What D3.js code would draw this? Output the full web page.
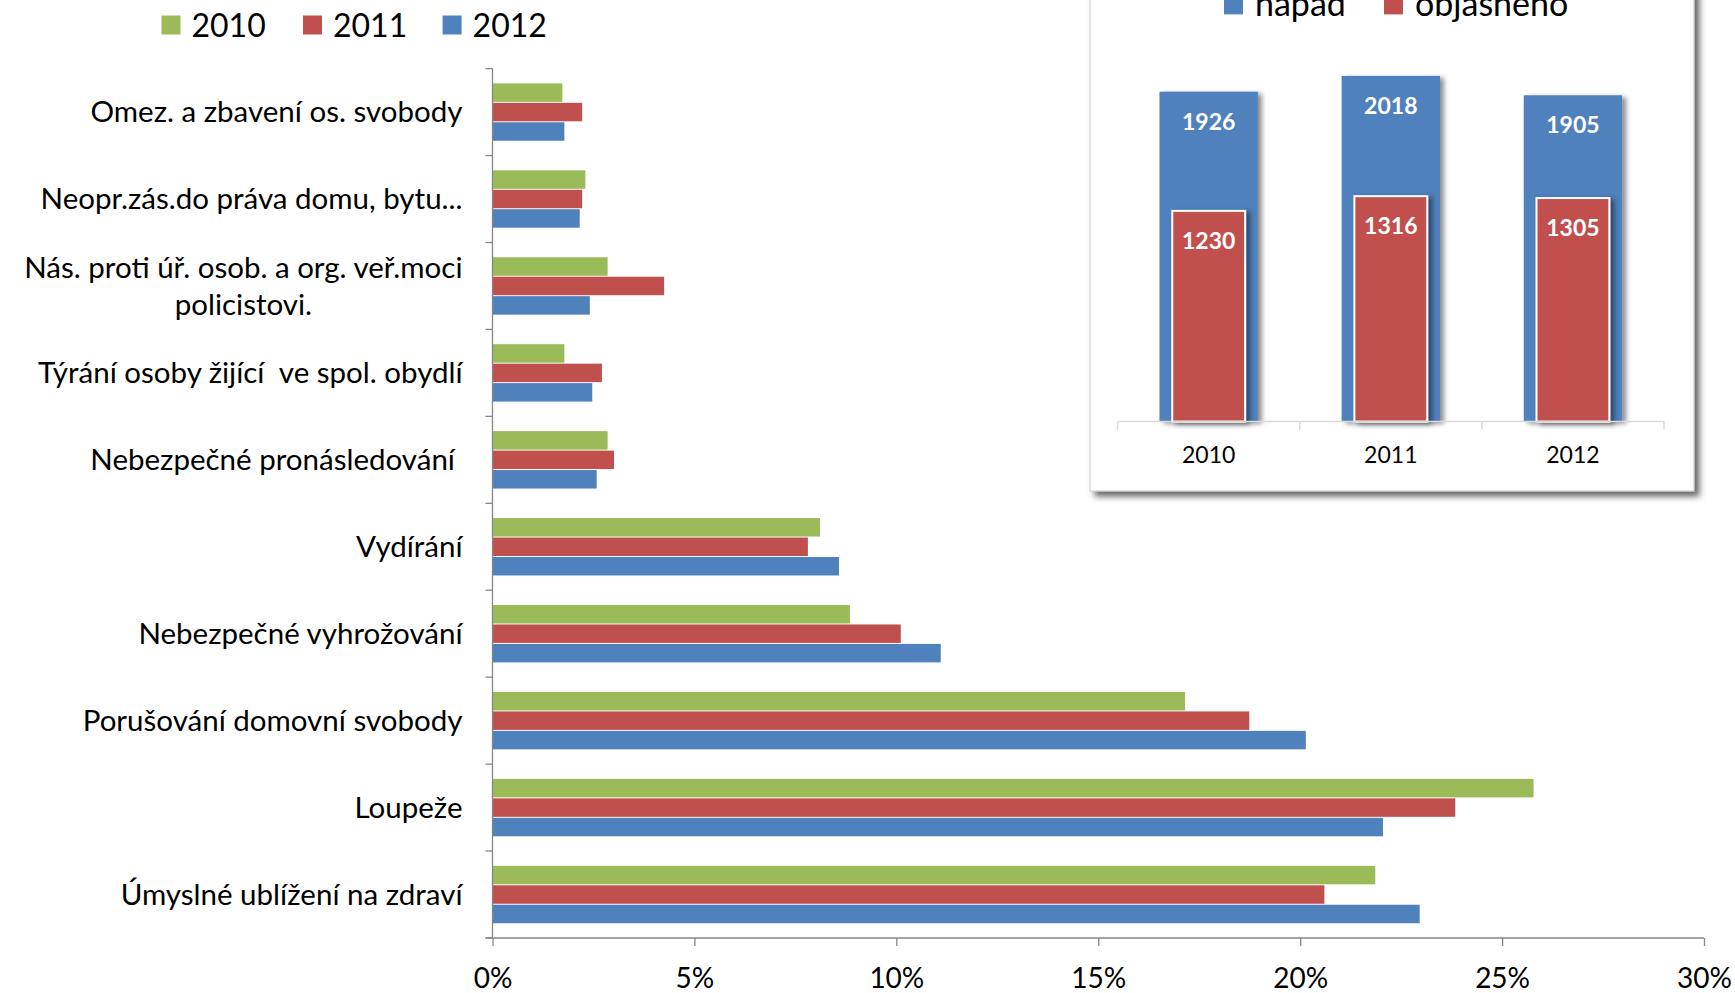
<!DOCTYPE html>
<html>
<head>
<meta charset="utf-8">
<script src="https://cdn.jsdelivr.net/npm/d3@7"></script>
<style>
  body { margin: 0; background: #fff; overflow: hidden; }
  svg text { font-family: Lato, "Open Sans", sans-serif; white-space: pre; }
</style>
</head>
<body>
<div id="chart"></div>
<script>
// main chart data (share in %)
var categories = [
  "Omez. a zbavení os. svobody",
  "Neopr.zás.do práva domu, bytu...",
  "Nás. proti úř. osob. a org. veř.moci\npolicistovi.",
  "Týrání osoby žijící  ve spol. obydlí",
  "Nebezpečné pronásledování ",
  "Vydírání",
  "Nebezpečné vyhrožování",
  "Porušování domovní svobody",
  "Loupeže",
  "Úmyslné ublížení na zdraví"
];
var years = ["2010", "2011", "2012"];
var values2010 = [1.73, 2.30, 2.85, 1.78, 2.85, 8.11, 8.85, 17.15, 25.78, 21.86];
var values2011 = [2.22, 2.22, 4.25, 2.71, 3.01, 7.81, 10.11, 18.74, 23.84, 20.60];
var values2012 = [1.78, 2.16, 2.41, 2.47, 2.58, 8.58, 11.10, 20.14, 22.05, 22.96];
var xTicks = [0, 5, 10, 15, 20, 25, 30];

// inset chart data
var insetYears = ["2010", "2011", "2012"];
var napad = [1926, 2018, 1905];
var objasneno = [1230, 1316, 1305];
var insetSeries = ["nápad", "objasněno"];

var colors = { "2010": "#9BBB59", "2011": "#C0504D", "2012": "#4F81BD" };
var axisColor = "#868686";

var width = 1735, height = 993;

var svg = d3.select("#chart").append("svg")
    .attr("width", width)
    .attr("height", height);

var defs = svg.append("defs");
var sh = defs.append("filter").attr("id", "boxShadow")
    .attr("x", "-5%").attr("y", "-5%").attr("width", "115%").attr("height", "115%");
sh.append("feDropShadow").attr("dx", 5).attr("dy", 5).attr("stdDeviation", 3)
    .attr("flood-color", "#000").attr("flood-opacity", 0.6);
var bs = defs.append("filter").attr("id", "barShadow")
    .attr("x", "-20%").attr("y", "-20%").attr("width", "150%").attr("height", "150%");
bs.append("feDropShadow").attr("dx", 4).attr("dy", 2).attr("stdDeviation", 2.5)
    .attr("flood-color", "#000").attr("flood-opacity", 0.45);

//build rows
var rows = categories.map(function(c, i) {
  return { cat: c, vals: [values2010[i], values2011[i], values2012[i]] };
});

//scales
var x = d3.scaleLinear().domain([0, 30]).range([492.5, 1704]);
var y = d3.scaleBand().domain(categories).range([68.6, 938]);
var groupH = y.bandwidth() * 0.66;
var yIn = d3.scaleBand().domain(years).range([0, groupH]).paddingInner(0.05);

//bars
var groups = svg.selectAll(".cat")
  .data(rows)
  .enter().append("g")
    .attr("class", "cat")
    .attr("transform", function(d) {
      return "translate(0," + (y(d.cat) + (y.bandwidth() - groupH) / 2) + ")";
    });

groups.selectAll("rect")
  .data(function(d) { return d.vals.map(function(v, i) { return { year: years[i], v: v }; }); })
  .enter().append("rect")
    .attr("x", x(0))
    .attr("y", function(d) { return yIn(d.year); })
    .attr("width", function(d) { return x(d.v) - x(0); })
    .attr("height", yIn.bandwidth())
    .attr("fill", function(d) { return colors[d.year]; });

//x axis
var xAxis = d3.axisBottom(x)
    .tickValues(xTicks)
    .tickFormat(function(d) { return d + "%"; })
    .tickSize(8)
    .tickSizeOuter(0);

var gx = svg.append("g")
    .attr("transform", "translate(0,938)")
    .call(xAxis);
gx.select(".domain").attr("stroke", axisColor).attr("stroke-width", 1.3)
    .attr("d", "M" + (x(0) - 7) + ",0H" + x(30));
gx.selectAll(".tick line").attr("stroke", axisColor).attr("stroke-width", 1.3);
gx.selectAll(".tick text")
    .attr("y", 40)
    .attr("dy", "0.35em")
    .attr("fill", "#000")
    .style("font-size", "28px");

//y axis (ticks on category borders)
var gy = svg.append("g");
gy.append("line")
    .attr("x1", x(0)).attr("x2", x(0))
    .attr("y1", y.range()[0]).attr("y2", y.range()[1])
    .attr("stroke", axisColor).attr("stroke-width", 1.3);
var borders = categories.map(function(c) { return y(c); }).concat([y.range()[1]]);
gy.selectAll(".ytick")
  .data(borders)
  .enter().append("line")
    .attr("x1", x(0) - 7).attr("x2", x(0))
    .attr("y1", function(d) { return d; })
    .attr("y2", function(d) { return d; })
    .attr("stroke", axisColor).attr("stroke-width", 1.3);

var labelRight = 462.5;
var labels = gy.selectAll(".ylab")
  .data(categories)
  .enter().append("text")
    .attr("text-anchor", "end")
    .attr("fill", "#000")
    .style("font-size", "29.5px");

labels.each(function(c) {
  var lines = c.split("\n");
  var t = d3.select(this);
  var cy = y(c) + y.bandwidth() / 2;
  if (lines.length === 1) {
    t.attr("x", labelRight).attr("y", cy).attr("dy", "0.35em").text(c);
  } else {
    t.selectAll("tspan").data(lines).enter().append("tspan")
      .attr("y", function(d, i) { return cy - 18.5 + i * 37; })
      .attr("dy", "0.35em")
      .text(function(d) { return d; });
    // every line centred under the widest (first) line
    var w = t.select("tspan").node().getComputedTextLength();
    t.attr("text-anchor", "middle");
    t.selectAll("tspan").attr("x", labelRight - w / 2);
  }
});

//legend
var legendX = [161.5, 303, 442.6];
var legend = svg.selectAll(".leg")
  .data(years)
  .enter().append("g")
    .attr("transform", function(d, i) { return "translate(" + legendX[i] + ",0)"; });
legend.append("rect")
    .attr("x", 0).attr("y", 15.5)
    .attr("width", 19).attr("height", 19)
    .attr("fill", function(d) { return colors[d]; });
legend.append("text")
    .attr("x", 30).attr("y", 36.5)
    .style("font-size", "32px")
    .text(function(d) { return d; });

// ---- inset chart ----
var inset = svg.append("g");
inset.append("rect")
    .attr("x", 1090).attr("y", -40)
    .attr("width", 604).attr("height", 531)
    .attr("fill", "#fff")
    .attr("stroke", "#c8c8c8").attr("stroke-width", 1)
    .attr("filter", "url(#boxShadow)");

var xI = d3.scaleBand().domain(insetYears).range([1117.6, 1664]);
var yI = d3.scaleLinear().domain([0, 2500]).range([421.6, 421.6 - 2500 * 0.1713]);
var blueW = xI.step() * 0.54, redW = xI.step() * 0.40;

inset.selectAll(".napad")
  .data(napad)
  .enter().append("rect")
    .attr("x", function(d, i) { return xI(insetYears[i]) + (xI.step() - blueW) / 2; })
    .attr("y", function(d) { return yI(d); })
    .attr("width", blueW)
    .attr("height", function(d) { return yI(0) - yI(d); })
    .attr("fill", "#4F81BD")
    .attr("filter", "url(#barShadow)");

inset.selectAll(".obj")
  .data(objasneno)
  .enter().append("rect")
    .attr("x", function(d, i) { return xI(insetYears[i]) + (xI.step() - redW) / 2; })
    .attr("y", function(d) { return yI(d); })
    .attr("width", redW)
    .attr("height", function(d) { return yI(0) - yI(d); })
    .attr("fill", "#C0504D")
    .attr("stroke", "#fff").attr("stroke-width", 2)
    .attr("filter", "url(#barShadow)");

inset.selectAll(".napadLab")
  .data(napad)
  .enter().append("text")
    .attr("x", function(d, i) { return xI(insetYears[i]) + xI.step() / 2; })
    .attr("y", function(d) { return yI(d) + 30; })
    .attr("dy", "0.35em")
    .attr("text-anchor", "middle")
    .attr("fill", "#fff")
    .style("font-size", "23px").style("font-weight", "bold")
    .text(function(d) { return d; });

inset.selectAll(".objLab")
  .data(objasneno)
  .enter().append("text")
    .attr("x", function(d, i) { return xI(insetYears[i]) + xI.step() / 2; })
    .attr("y", function(d) { return yI(d) + 30; })
    .attr("dy", "0.35em")
    .attr("text-anchor", "middle")
    .attr("fill", "#fff")
    .style("font-size", "23px").style("font-weight", "bold")
    .text(function(d) { return d; });

// inset axis
var ia = inset.append("g").attr("transform", "translate(0," + yI(0) + ")");
ia.append("line")
    .attr("x1", xI.range()[0]).attr("x2", xI.range()[1])
    .attr("stroke", "#d9d9d9").attr("stroke-width", 1.5);
ia.selectAll(".itick")
  .data(insetYears.map(function(d) { return xI(d); }).concat([xI.range()[1]]))
  .enter().append("line")
    .attr("x1", function(d) { return d; }).attr("x2", function(d) { return d; })
    .attr("y1", 0).attr("y2", 8)
    .attr("stroke", "#d9d9d9").attr("stroke-width", 1.5);
ia.selectAll(".ilab")
  .data(insetYears)
  .enter().append("text")
    .attr("x", function(d) { return xI(d) + xI.step() / 2; })
    .attr("y", 33.5)
    .attr("dy", "0.35em")
    .attr("text-anchor", "middle")
    .style("font-size", "23px")
    .text(function(d) { return d; });

// inset legend (top is cut by the page edge)
var iLegX = [1224, 1384];
var iLegColors = ["#4F81BD", "#C0504D"];
var il = inset.selectAll(".ileg")
  .data(insetSeries)
  .enter().append("g")
    .attr("transform", function(d, i) { return "translate(" + iLegX[i] + ",0)"; });
il.append("rect")
    .attr("x", 0).attr("y", -4.6)
    .attr("width", 19).attr("height", 19)
    .attr("fill", function(d, i) { return iLegColors[i]; });
il.append("text")
    .attr("x", 31).attr("y", 15.5)
    .style("font-size", "34px")
    .text(function(d) { return d; });
</script>
</body>
</html>
